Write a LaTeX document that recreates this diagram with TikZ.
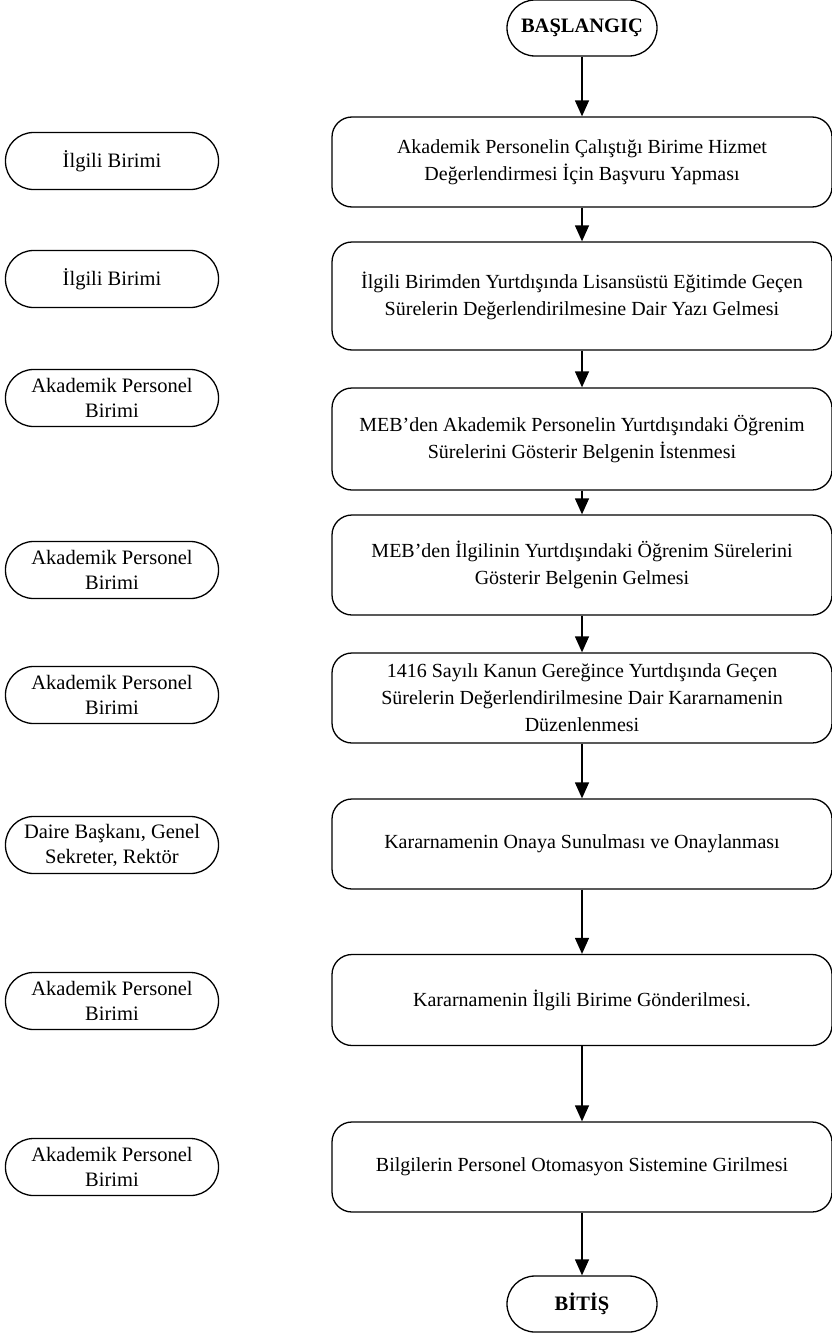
\documentclass[tikz,border=0pt]{standalone}
\usepackage{fontspec}
\setmainfont{Liberation Serif}
\usetikzlibrary{arrows.meta}

\begin{document}
\begin{tikzpicture}[x=1pt,y=-1pt,
    adim/.style={draw, line width=1.3pt, rounded corners=20pt, minimum width=500pt,
        align=center, font=\fontsize{20}{27}\selectfont},
    birim/.style={draw, line width=1.3pt, rounded corners=28pt, minimum width=213pt,
        minimum height=57pt, inner sep=2pt, align=center, font=\fontsize{20.5}{25}\selectfont},
    uc/.style={draw, line width=1.3pt, rounded corners=28pt, minimum width=150pt,
        minimum height=56pt, font=\fontsize{20.5}{25}\selectfont\bfseries},
    ok/.style={-{Triangle[width=14pt,length=16pt]}, line width=1.3pt}]
    \useasboundingbox (0,0) rectangle (832,1333);

    % Start and end
    \node[uc] (start) at (582,28) {BAŞLANGIÇ};
    \node[uc] (bitis) at (582,1304) {BİTİŞ};

    % Process steps
    \node[adim, minimum height=90pt] (adim1) at (582,162)
        {Akademik Personelin Çalıştığı Birime Hizmet\\Değerlendirmesi İçin Başvuru Yapması};
    \node[adim, minimum height=108pt] (adim2) at (582,296)
        {İlgili Birimden Yurtdışında Lisansüstü Eğitimde Geçen\\Sürelerin Değerlendirilmesine Dair Yazı Gelmesi};
    \node[adim, minimum height=102pt] (adim3) at (582,439)
        {MEB’den Akademik Personelin Yurtdışındaki Öğrenim\\Sürelerini Gösterir Belgenin İstenmesi};
    \node[adim, minimum height=100pt] (adim4) at (582,565)
        {MEB’den İlgilinin Yurtdışındaki Öğrenim Sürelerini\\Gösterir Belgenin Gelmesi};
    \node[adim, minimum height=90pt] (adim5) at (582,698)
        {1416 Sayılı Kanun Gereğince Yurtdışında Geçen\\Sürelerin Değerlendirilmesine Dair Kararnamenin\\Düzenlenmesi};
    \node[adim, minimum height=90pt] (adim6) at (582,844)
        {Kararnamenin Onaya Sunulması ve Onaylanması};
    \node[adim, minimum height=91pt] (adim7) at (582,1000)
        {Kararnamenin İlgili Birime Gönderilmesi.};
    \node[adim, minimum height=90pt] (adim8) at (582,1167)
        {Bilgilerin Personel Otomasyon Sistemine Girilmesi};

    % Responsible units
    \node[birim] (birim1) at (112,161) {İlgili Birimi};
    \node[birim] (birim2) at (112,279) {İlgili Birimi};
    \node[birim] (birim3) at (112,398) {Akademik Personel\\Birimi};
    \node[birim] (birim4) at (112,570) {Akademik Personel\\Birimi};
    \node[birim] (birim5) at (112,695) {Akademik Personel\\Birimi};
    \node[birim] (birim6) at (112,845) {Daire Başkanı, Genel\\Sekreter, Rektör};
    \node[birim] (birim7) at (112,1001) {Akademik Personel\\Birimi};
    \node[birim] (birim8) at (112,1167) {Akademik Personel\\Birimi};

    % Flow
    \draw[ok] (start) -- (adim1);
    \draw[ok] (adim1) -- (adim2);
    \draw[ok] (adim2) -- (adim3);
    \draw[ok] (adim3) -- (adim4);
    \draw[ok] (adim4) -- (adim5);
    \draw[ok] (adim5) -- (adim6);
    \draw[ok] (adim6) -- (adim7);
    \draw[ok] (adim7) -- (adim8);
    \draw[ok] (adim8) -- (bitis);
\end{tikzpicture}
\end{document}
